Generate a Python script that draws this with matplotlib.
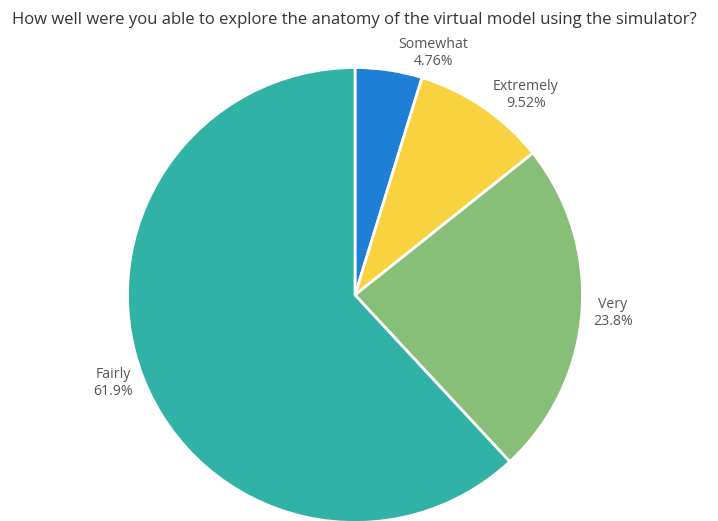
import matplotlib.pyplot as plt

labels = ["Somewhat", "Extremely", "Very", "Fairly"]
shares = [4.76, 9.52, 23.8, 61.9]
pct_text = ["4.76%", "9.52%", "23.8%", "61.9%"]
colors = ["#1f7fd6", "#f8d23f", "#87bf79", "#31b2a6"]

W, H = 718, 521
fig = plt.figure(figsize=(W / 100, H / 100), dpi=100)
ax = fig.add_axes([0, 0, 1, 1])

cx, cy, r = 355, H - 295, 227.5
ax.pie(shares, colors=colors, startangle=90, counterclock=False,
       center=(cx, cy), radius=r,
       wedgeprops=dict(edgecolor="white", linewidth=2))
ax.set_xlim(0, W)
ax.set_ylim(0, H)
ax.set_aspect("equal")
ax.axis("off")

# label spots in pixels (x, y from top)
label_pos = [(433, 53), (526, 95), (613, 313), (113, 383)]
for name, pct, (x, y) in zip(labels, pct_text, label_pos):
    ax.text(x, H - y, name + "\n" + pct, ha="center", va="center",
            fontsize=10.2, color="#555555", family="Open Sans", linespacing=1.2)

fig.text(354 / W, 1 - 20 / H,
         "How well were you able to explore the anatomy of the virtual model using the simulator?",
         ha="center", va="center", fontsize=12, color="#333333", family="Open Sans")

fig.savefig("out.png", dpi=100)
